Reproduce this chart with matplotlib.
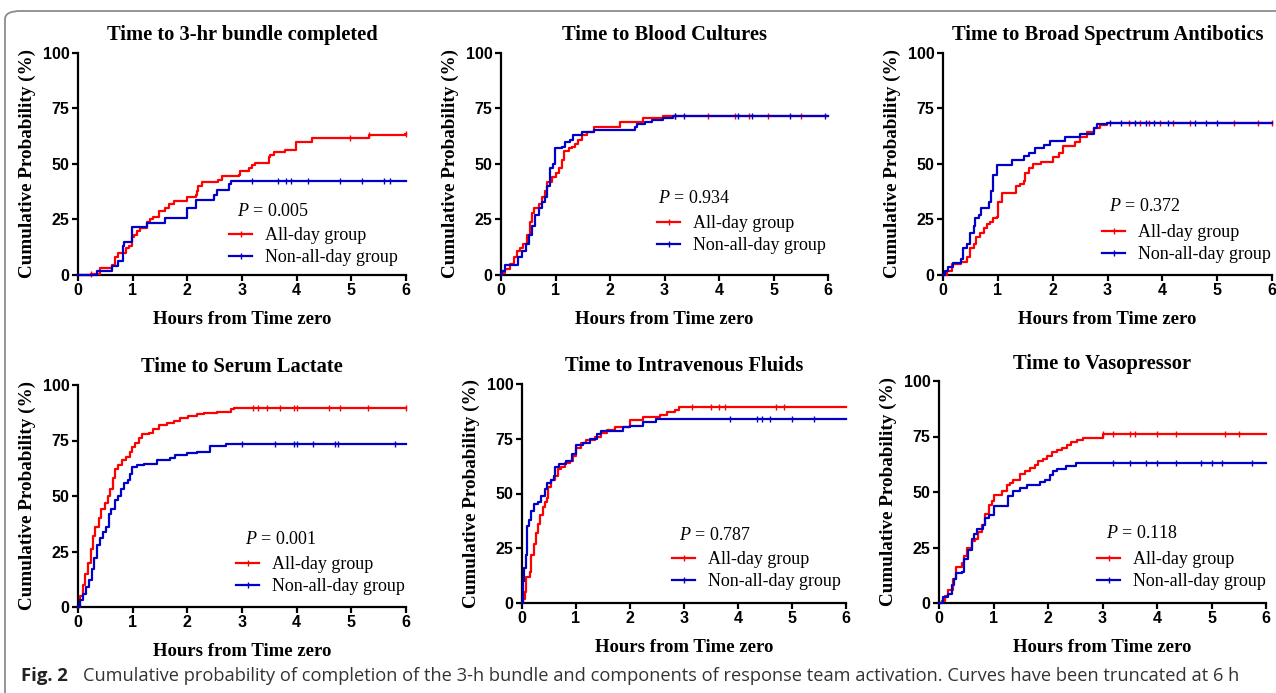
import numpy as np
import matplotlib
matplotlib.use("Agg")
import matplotlib.pyplot as plt
from matplotlib.patches import FancyBboxPatch
from matplotlib.lines import Line2D

plt.rcParams['mathtext.fontset'] = 'custom'
plt.rcParams['mathtext.rm'] = 'Liberation Serif'
plt.rcParams['mathtext.it'] = 'Liberation Serif:italic'

RED = '#ff0000'
BLUE = '#0000c8'

titles = ["Time to 3-hr bundle completed", "Time to Blood Cultures",
          "Time to Broad Spectrum Antibotics", "Time to Serum Lactate",
          "Time to Intravenous Fluids", "Time to Vasopressor"]
p_values = ["0.005", "0.934", "0.372", "0.001", "0.787", "0.118"]
groups = ["All-day group", "Non-all-day group"]

# step curves: event times (h) and cumulative probability (%)
bundle_all_t = [0, 0.23, 0.41, 0.62, 0.68, 0.74, 0.87, 0.93, 0.99, 1.02, 1.08, 1.14, 1.26, 1.32, 1.38, 1.48,
                1.6, 1.66, 1.75, 2.0, 2.15, 2.18, 2.2, 2.27, 2.57, 2.63, 2.94, 2.97, 3.12, 3.18, 3.24, 3.49,
                3.52, 3.58, 3.79, 3.99, 4.28, 5.32, 5.98]
bundle_all_p = [0, 0.5, 3, 4.5, 8, 10, 12, 13, 17, 18, 20, 21, 24, 25, 26, 29,
                30, 32, 33.5, 35, 36, 38, 40, 42, 43, 44.5, 45, 47, 48, 49.5, 50.5, 53,
                54, 55.5, 56.5, 60, 61.5, 63, 63.5]
bundle_non_t = [0, 0.34, 0.62, 0.74, 0.82, 0.85, 0.99, 1.26, 1.6, 1.99, 2.16, 2.48, 2.54, 2.77, 2.8]
bundle_non_p = [0, 2, 4, 6.5, 13, 15, 21.5, 23.5, 25.5, 30, 34, 36, 38.5, 41, 42.5]

cultures_all_t = [0, 0.02, 0.08, 0.17, 0.23, 0.29, 0.35, 0.41, 0.48, 0.54, 0.57, 0.61, 0.69, 0.75, 0.81,
                  0.85, 0.93, 1.0, 1.06, 1.12, 1.16, 1.24, 1.3, 1.36, 1.42, 1.48, 1.58, 1.7, 2.19, 2.61, 2.98]
cultures_all_p = [0, 1, 2.5, 5, 8, 11, 12, 14, 18, 24, 28, 30, 32, 35, 38,
                  42, 44, 46, 48, 52, 56, 57, 57.5, 59, 61, 63, 64.5, 66.5, 69, 70.5, 71.5]
cultures_non_t = [0, 0.02, 0.08, 0.32, 0.38, 0.45, 0.51, 0.57, 0.63, 0.69, 0.75, 0.81, 0.85, 0.9, 0.95,
                  0.99, 1.12, 1.18, 1.27, 1.33, 1.48, 1.7, 2.46, 2.49, 2.64, 2.77, 2.98, 3.16]
cultures_non_p = [0, 2, 4.5, 8, 11, 14, 18, 22, 27, 30, 33, 35, 40, 48, 50,
                  57, 57.5, 60, 61, 63, 64.5, 65.5, 66.5, 68, 69, 70, 70.8, 71.5]

antibio_all_t = [0, 0.07, 0.16, 0.32, 0.44, 0.5, 0.56, 0.61, 0.68, 0.74, 0.8, 0.86, 0.92, 0.98, 1.0, 1.08,
                 1.34, 1.41, 1.47, 1.49, 1.56, 1.65, 1.78, 2.0, 2.11, 2.19, 2.41, 2.5, 2.63, 2.75, 2.87, 2.99]
antibio_all_p = [0, 2, 5, 6, 8, 12, 14, 17, 19, 21, 23, 24, 25.5, 26, 33, 37,
                 40, 41, 42.5, 46, 48, 50, 51, 53, 55, 58, 60, 62, 64.5, 66, 67.5, 68.5]
antibio_non_t = [0, 0.04, 0.1, 0.18, 0.32, 0.36, 0.44, 0.5, 0.56, 0.59, 0.65, 0.69, 0.83, 0.88, 0.92, 0.98,
                 1.26, 1.47, 1.56, 1.68, 1.84, 1.96, 2.23, 2.5, 2.75, 2.81, 2.99]
antibio_non_p = [0, 2, 3.5, 5.5, 7, 12, 14, 19, 22, 25.5, 27, 30, 33, 38, 45, 49.5,
                 52, 53.5, 55, 57, 58.5, 60.5, 62, 63.5, 66, 68, 68.5]

lactate_all_t = [0, 0.04, 0.09, 0.13, 0.18, 0.23, 0.27, 0.32, 0.38, 0.42, 0.5, 0.54, 0.59, 0.64, 0.68, 0.74,
                 0.8, 0.87, 0.95, 0.99, 1.05, 1.11, 1.17, 1.29, 1.38, 1.48, 1.63, 1.75, 1.87, 2.02, 2.18,
                 2.3, 2.54, 2.79, 2.85]
lactate_all_p = [0, 5, 10, 15, 20, 26, 32, 36, 40, 44, 47, 50, 53, 58, 62, 64,
                 66, 67.5, 70, 72, 74, 76, 78, 78.5, 80, 82, 83, 84, 85, 86, 87,
                 87.5, 88, 89, 89.5]
lactate_non_t = [0, 0.04, 0.09, 0.15, 0.2, 0.26, 0.3, 0.35, 0.4, 0.46, 0.52, 0.56, 0.6, 0.68, 0.74, 0.79,
                 0.84, 0.91, 0.96, 0.99, 1.08, 1.2, 1.45, 1.69, 1.78, 1.99, 2.18, 2.42, 2.7]
lactate_non_p = [0, 3, 6, 9, 12, 17, 22, 28, 31, 34, 36, 42, 44, 48, 50, 53,
                 56, 57, 60, 63, 64, 64.5, 66, 67, 68.5, 69.5, 70, 72.5, 73.5]

fluids_all_t = [0, 0.02, 0.05, 0.08, 0.14, 0.17, 0.22, 0.25, 0.3, 0.34, 0.39, 0.42, 0.46, 0.48, 0.54, 0.61,
                0.67, 0.73, 0.79, 0.88, 0.95, 1.0, 1.1, 1.19, 1.35, 1.47, 1.57, 1.72, 2.0, 2.24, 2.55,
                2.68, 2.83, 2.91]
fluids_all_p = [0, 2, 5, 12, 14, 22, 27, 32, 36, 40, 44, 46, 48, 53, 56, 58,
                61, 62, 64, 65, 67, 71, 73, 74.5, 76, 77.5, 79, 80.5, 83.5, 85, 86,
                87, 88, 89.5]
fluids_non_t = [0, 0.02, 0.04, 0.07, 0.09, 0.13, 0.17, 0.22, 0.3, 0.36, 0.42, 0.46, 0.54, 0.59, 0.62, 0.69,
                0.82, 0.92, 1.0, 1.13, 1.26, 1.38, 1.47, 1.87, 2.0, 2.24, 2.48]
fluids_non_p = [0, 10, 16, 22, 35, 38, 42, 45, 46, 49, 52, 55, 56, 58, 62, 63.5,
                65, 68, 72, 73, 75, 77, 78.5, 80.5, 81, 82.5, 84]

vaso_all_t = [0, 0.05, 0.11, 0.17, 0.25, 0.32, 0.42, 0.46, 0.51, 0.6, 0.66, 0.72, 0.78, 0.84, 0.91, 0.97,
              1.0, 1.15, 1.24, 1.3, 1.36, 1.49, 1.58, 1.67, 1.76, 1.82, 1.91, 1.98, 2.07, 2.16, 2.25,
              2.34, 2.43, 2.53, 2.65, 3.0]
vaso_all_p = [0, 1, 3, 6, 11, 16, 18, 21, 25, 28, 29, 32, 35, 40, 44, 46,
              48.5, 50.5, 53, 54, 55.5, 58, 59.5, 61, 62, 64, 65, 66, 68, 69, 70,
              71, 72.5, 73.5, 74.5, 76]
vaso_non_t = [0, 0.08, 0.17, 0.23, 0.28, 0.32, 0.42, 0.46, 0.54, 0.6, 0.64, 0.69, 0.81, 0.84, 0.91, 1.0,
              1.27, 1.36, 1.49, 1.61, 1.85, 1.94, 2.04, 2.1, 2.16, 2.33, 2.51]
vaso_non_p = [0, 2.5, 4, 8, 11, 13.5, 14, 20, 24, 29, 31, 33.5, 35, 38.5, 39.5, 43.5,
              48, 50.5, 52, 53, 54.5, 55.5, 57.5, 59.5, 60.5, 61.5, 63]

# censored observations (h)
bundle_all_c = [0.23, 4.98, 5.33, 6.0]
bundle_non_c = [3.18, 3.65, 3.8, 3.9, 4.2, 4.8, 5.2, 5.6, 5.7]
cultures_all_c = [3.2, 3.8, 4.3, 4.55, 4.9, 5.5]
cultures_non_c = [3.2, 3.35, 4.35, 4.6, 5.3, 5.95]
antibio_all_c = [3.4, 3.6, 3.75, 3.95, 4.2, 4.5, 5.3, 5.75, 6.0]
antibio_non_c = [3.05, 3.25, 3.5, 3.7, 3.85, 4.1, 4.6, 4.8, 5.0]
lactate_all_c = [3.2, 3.3, 3.45, 3.7, 3.95, 4.0, 4.6, 4.8, 5.3, 6.0]
lactate_non_c = [3.0, 3.6, 3.95, 4.0, 4.3, 4.7, 4.75, 5.8]
fluids_all_c = [3.15, 3.5, 3.65, 3.75, 4.7, 4.85]
fluids_non_c = [3.85, 4.35, 4.45, 4.6, 5.0, 5.4]
vaso_all_c = [3.0, 3.2, 3.5, 3.6, 4.0, 4.35, 5.25, 5.5]
vaso_non_c = [3.2, 3.5, 3.8, 4.0, 4.35, 4.8, 5.0, 5.2, 5.75]

curves = [
    ((bundle_all_t, bundle_all_p, bundle_all_c), (bundle_non_t, bundle_non_p, bundle_non_c)),
    ((cultures_all_t, cultures_all_p, cultures_all_c), (cultures_non_t, cultures_non_p, cultures_non_c)),
    ((antibio_all_t, antibio_all_p, antibio_all_c), (antibio_non_t, antibio_non_p, antibio_non_c)),
    ((lactate_all_t, lactate_all_p, lactate_all_c), (lactate_non_t, lactate_non_p, lactate_non_c)),
    ((fluids_all_t, fluids_all_p, fluids_all_c), (fluids_non_t, fluids_non_p, fluids_non_c)),
    ((vaso_all_t, vaso_all_p, vaso_all_c), (vaso_non_t, vaso_non_p, vaso_non_c)),
]

W, H = 1276, 693
# axes boxes in pixels: left, top, right, bottom
boxes = [(78, 53, 406, 275), (501, 53, 828, 275), (943, 53, 1272, 275),
         (78, 385, 406, 607), (522, 384, 846, 603), (939, 381, 1266, 603)]
# legend anchor: P text (x, y), handle start x, first row y (pixels)
legend_px = [(237, 212, 229, 234), (658, 199, 657, 222), (1109, 207, 1102, 231),
             (245, 539, 236, 563), (679, 535, 672, 558), (1106, 533, 1097, 558)]

fig = plt.figure(figsize=(W / 100, H / 100), dpi=100)
fig.patch.set_facecolor('white')

frame = FancyBboxPatch((5 / W, -0.2), 1.2, 1.2 - 11 / H, boxstyle="round,pad=0,rounding_size=0.012",
                       transform=fig.transFigure, fill=False, edgecolor='#8c8c8c', lw=1.3, clip_on=False)
fig.patches.append(frame)

serif = 'Liberation Serif'
sans = 'Liberation Sans'

for i, (l, t, r, b) in enumerate(boxes):
    ax = fig.add_axes([l / W, 1 - b / H, (r - l) / W, (b - t) / H])
    handles = []
    for (ts, ps, cs), col in zip(curves[i], [RED, BLUE]):
        ts = np.append(ts, 6.0)
        ps = np.append(ps, ps[-1])
        ax.step(ts, ps, where='post', color=col, lw=1.6, clip_on=False, zorder=3)
        idx = np.searchsorted(ts, cs, side='right') - 1
        ax.plot(cs, ps[idx], ls='none', marker='|', ms=4, mew=1.0, color=col, clip_on=False, zorder=3)
        handles.append(Line2D([], [], color=col, lw=1.6, marker='|', ms=4, mew=1.0))

    ax.set_xlim(0, 6)
    ax.set_ylim(0, 100)
    ax.set_xticks(range(7))
    ax.set_yticks([0, 25, 50, 75, 100])
    for s in ['top', 'right']:
        ax.spines[s].set_visible(False)
    for s in ['left', 'bottom']:
        ax.spines[s].set_linewidth(1.6)
    ax.tick_params(direction='out', length=4, width=1.6, pad=2)
    for lab in ax.get_xticklabels() + ax.get_yticklabels():
        lab.set_fontfamily(sans)
        lab.set_fontweight('bold')
        lab.set_fontsize(11.5)

    ax.set_title(titles[i], fontfamily=serif, fontweight='bold', fontsize=14.8, pad=9)
    ax.set_xlabel("Hours from Time zero", fontfamily=serif, fontweight='bold', fontsize=13.5, labelpad=9)
    ax.set_ylabel("Cumulative Probability (%)", fontfamily=serif, fontweight='bold', fontsize=13.8,
                  labelpad=5)

    px, py, hx, hy = legend_px[i]
    aw, ah = r - l, b - t
    ax.text((px - l) / aw, (b - py) / ah, "$P$ = " + p_values[i], transform=ax.transAxes,
            fontfamily=serif, fontsize=13, ha='left', va='center')
    ax.legend(handles, groups, loc='upper left', bbox_to_anchor=((hx - l) / aw, (b - hy + 7) / ah),
              frameon=False, borderpad=0, borderaxespad=0, handlelength=1.3, handletextpad=0.7,
              labelspacing=0.3, numpoints=1, prop={'family': serif, 'size': 13})

fig.text(21 / W, 1 - 676 / H, "Fig. 2", fontfamily='Open Sans', fontweight='bold', fontsize=13.3,
         va='center', ha='left', color='#222222')
fig.text(83 / W, 1 - 676 / H,
         "Cumulative probability of completion of the 3-h bundle and components of response team "
         "activation. Curves have been truncated at 6 h",
         fontfamily='Open Sans', fontsize=13.15, va='center', ha='left', color='#333333')

fig.savefig("out.png", dpi=100)
